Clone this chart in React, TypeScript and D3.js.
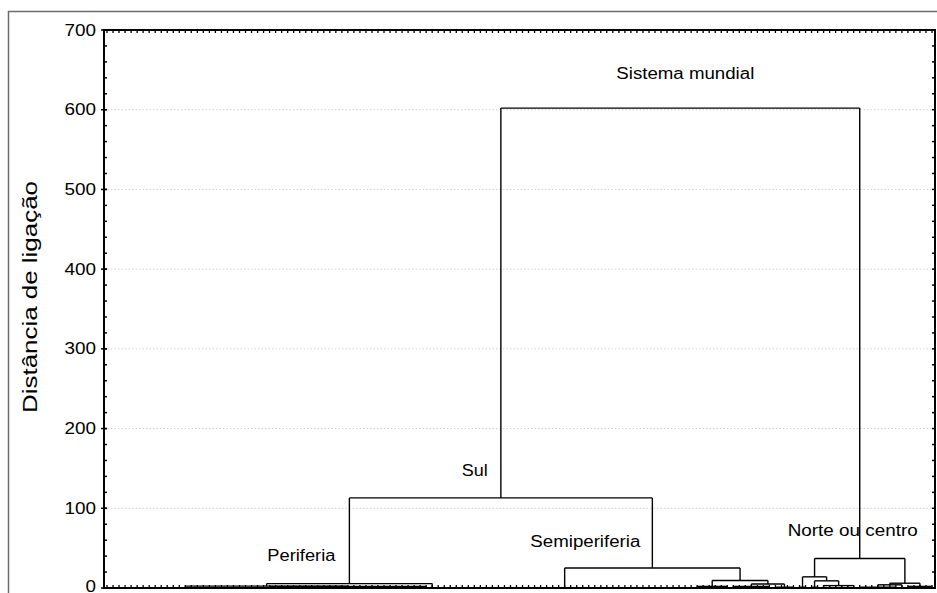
import React from "react";
import * as d3 from "d3";

type Cluster = { name?: string; h: number; leaves?: number; children?: Cluster[] };

// ---------- data ----------
const yTicks = [0, 100, 200, 300, 400, 500, 600, 700];
const yMinorTicks = d3.range(0, 701, 20);

// linkage heights of the clusters (distância de ligação)
const periferia: Cluster = {
  name: "Periferia",
  h: 5.5,
  children: [
    { h: 2.3, children: [{ h: 0.3, leaves: 27 }, { h: 2.0, leaves: 27 }] },
    { h: 0, leaves: 1 },
  ],
};
const semiperiferia: Cluster = {
  name: "Semiperiferia",
  h: 25,
  children: [
    { h: 0.5, leaves: 43 },
    {
      h: 9.5,
      children: [
        { h: 2, leaves: 6 },
        { h: 5, children: [{ h: 2, leaves: 7 }, { h: 1, leaves: 4 }] },
      ],
    },
  ],
};
const norte: Cluster = {
  name: "Norte ou centro",
  h: 37,
  children: [
    {
      h: 14,
      children: [
        { h: 1, leaves: 2 },
        { h: 9, children: [{ h: 1, leaves: 2 }, { h: 3, leaves: 6 }] },
      ],
    },
    {
      h: 6,
      children: [
        { h: 4, children: [{ h: 1, leaves: 7 }, { h: 0, leaves: 1 }] },
        { h: 2, leaves: 5 },
      ],
    },
  ],
};
const sul: Cluster = { name: "Sul", h: 113, children: [periferia, semiperiferia] };
const sistema: Cluster = { name: "Sistema mundial", h: 602, children: [sul, norte] };

const clusterLabels = ["Sistema mundial", "Sul", "Periferia", "Semiperiferia", "Norte ou centro"];
const yTitle = "Distância de ligação";

// ---------- layout ----------
const W = 937;
const H = 593;
const plot = { left: 104, top: 30, right: 935, bottom: 588 };

function countLeaves(c: Cluster): number {
  if (c.children) return c.children.reduce((s, k) => s + countLeaves(k), 0);
  return c.leaves ?? 1;
}
const N = countLeaves(sistema);

const x = d3
  .scalePoint<number>()
  .domain(d3.range(N))
  .range([plot.left, plot.right])
  .padding(0.5);
const y = d3.scaleLinear().domain([0, 700]).range([plot.bottom, plot.top]);

type Seg = { x1: number; y1: number; x2: number; y2: number };

function buildLines() {
  const segs: Seg[] = [];
  const pos = new Map<string, number>();
  let idx = 0;
  function walk(c: Cluster, parentH: number | null): number {
    let px: number;
    if (c.children) {
      const xs = c.children.map((k) => walk(k, c.h));
      const lo = d3.min(xs)!;
      const hi = d3.max(xs)!;
      segs.push({ x1: lo, y1: y(c.h), x2: hi, y2: y(c.h) });
      px = (lo + hi) / 2;
    } else {
      const n = c.leaves ?? 1;
      const xs: number[] = [];
      for (let i = 0; i < n; i++) xs.push(x(idx++)!);
      if (n > 1) {
        xs.forEach((lx) => segs.push({ x1: lx, y1: y(0), x2: lx, y2: y(c.h) }));
        segs.push({ x1: xs[0], y1: y(c.h), x2: xs[n - 1], y2: y(c.h) });
      }
      px = (xs[0] + xs[n - 1]) / 2;
    }
    if (parentH !== null) segs.push({ x1: px, y1: y(c.h), x2: px, y2: y(parentH) });
    if (c.name) pos.set(c.name, px);
    return px;
  }
  walk(sistema, null);
  return { segs, pos };
}

const heightOf: Record<string, number> = {
  "Sistema mundial": sistema.h,
  Sul: sul.h,
  Periferia: periferia.h,
  Semiperiferia: semiperiferia.h,
  "Norte ou centro": norte.h,
};

// label placement (styling, relative to node)
const labelStyle: Record<string, { dx: number; dy: number; anchor: string; len: number }> = {
  "Sistema mundial": { dx: 5, dy: -29, anchor: "middle", len: 138 },
  Sul: { dx: -13, dy: -22, anchor: "end", len: 26 },
  Periferia: { dx: -14, dy: -22.5, anchor: "end", len: 68 },
  Semiperiferia: { dx: -12, dy: -21, anchor: "end", len: 110 },
  "Norte ou centro": { dx: -7, dy: -22.5, anchor: "middle", len: 130 },
};

export default function App() {
  const { segs, pos } = buildLines();
  const font = "'Liberation Sans', Arial, sans-serif";
  return (
    <svg
      width={W}
      height={H}
      style={{ position: "absolute", left: 0, top: 0, background: "#fff" }}
      fontFamily={font}
    >
      {/* outer frame */}
      <path d={`M8.5,${H} V11.5 H${W}`} fill="none" stroke="#6b6b6b" strokeWidth={1.5} />

      {/* grid */}
      {yTicks
        .filter((t) => t > 0 && t < 700)
        .map((t) => (
          <line
            key={"g" + t}
            x1={plot.left}
            x2={plot.right}
            y1={y(t)}
            y2={y(t)}
            stroke="#c4c4c4"
            strokeWidth={0.8}
            strokeDasharray="1.5,2"
          />
        ))}

      {/* minor y ticks, left and right, inward */}
      {yMinorTicks.map((t) => (
        <g key={"m" + t}>
          <line x1={plot.left} x2={plot.left + 3} y1={y(t)} y2={y(t)} stroke="#000" strokeWidth={1.5} />
          <line x1={plot.right} x2={plot.right - 3} y1={y(t)} y2={y(t)} stroke="#000" strokeWidth={1.5} />
        </g>
      ))}
      {/* major y ticks */}
      {yTicks.map((t) => (
        <g key={"t" + t}>
          <line x1={plot.left - 3} x2={plot.left + 3} y1={y(t)} y2={y(t)} stroke="#000" strokeWidth={1.5} />
          <text
            x={96}
            y={Math.min(y(t) + 5.5, H - 1.5)}
            textAnchor="end"
            fontSize={16}
            textLength={String(t).length * 10.5}
            lengthAdjust="spacingAndGlyphs"
            fill="#000"
          >
            {t}
          </text>
        </g>
      ))}

      {/* leaf ticks on top and bottom, inward */}
      {d3.range(N).map((i) => (
        <g key={"l" + i}>
          <line x1={x(i)} x2={x(i)} y1={plot.top} y2={plot.top + 3} stroke="#000" strokeWidth={1.3} />
          <line x1={x(i)} x2={x(i)} y1={plot.bottom} y2={plot.bottom - 3} stroke="#000" strokeWidth={1.3} />
        </g>
      ))}

      {/* dendrogram */}
      {segs.map((s, i) => (
        <line key={"s" + i} x1={s.x1} y1={s.y1} x2={s.x2} y2={s.y2} stroke="#000" strokeWidth={1.4} />
      ))}

      {/* plot border */}
      <rect
        x={plot.left}
        y={plot.top}
        width={plot.right - plot.left}
        height={plot.bottom - plot.top}
        fill="none"
        stroke="#000"
        strokeWidth={2}
      />

      {/* cluster labels */}
      {clusterLabels.map((name) => {
        const st = labelStyle[name];
        const px = pos.get(name)!;
        return (
          <text
            key={name}
            x={px + st.dx}
            y={y(heightOf[name]) + st.dy}
            textAnchor={st.anchor as any}
            fontSize={16}
            textLength={st.len}
            lengthAdjust="spacingAndGlyphs"
            fill="#000"
          >
            {name}
          </text>
        );
      })}

      {/* y axis title */}
      <text
        transform={`translate(37,297) rotate(-90)`}
        textAnchor="middle"
        fontSize={20}
        textLength={232}
        lengthAdjust="spacingAndGlyphs"
        fill="#000"
      >
        {yTitle}
      </text>
    </svg>
  );
}
